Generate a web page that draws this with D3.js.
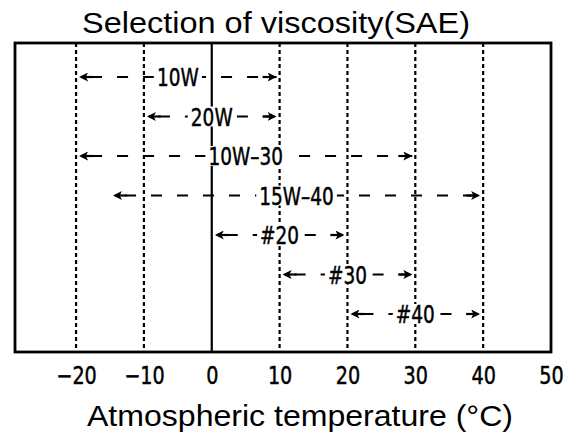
<!DOCTYPE html>
<html>
<head>
<meta charset="utf-8">
<script src="https://cdn.jsdelivr.net/npm/d3@7"></script>
<style>
  body { margin: 0; background: #fff; }
  svg { display: block; }
</style>
</head>
<body>
<div id="chart"></div>
<script>
// viscosity grades and their usable temperature range (°C)
const grades = ["10W", "20W", "10W\u201330", "15W\u201340", "#20", "#30", "#40"];
const lowTemp = [-20, -10, -20, -15, 0, 10, 20];
const highTemp = [10, 10, 30, 40, 20, 30, 40];
const gridTemps = [-20, -10, 10, 20, 30, 40];
const tickTemps = [-20, -10, 0, 10, 20, 30, 40, 50];

const width = 583, height = 442;
const frame = { left: 15, right: 551, top: 43, bottom: 352 };

const svg = d3.select("#chart").append("svg")
    .attr("width", width)
    .attr("height", height);

const x = d3.scaleLinear()
    .domain([-29, 50])
    .range([frame.left, frame.right]);

const y = d3.scalePoint()
    .domain(grades)
    .range([77, 314]);

const sans = "'Liberation Sans', Arial, sans-serif";
const narrow = "'DejaVu Sans', sans-serif";

// title
svg.append("text")
    .attr("x", 276)
    .attr("y", 33)
    .attr("text-anchor", "middle")
    .attr("font-family", sans)
    .attr("font-size", 30)
    .attr("textLength", 388)
    .attr("lengthAdjust", "spacingAndGlyphs")
    .text("Selection of viscosity(SAE)");

// dashed verticals
svg.selectAll(".grid")
    .data(gridTemps)
    .enter().append("line")
    .attr("class", "grid")
    .attr("x1", d => x(d)).attr("x2", d => x(d))
    .attr("y1", frame.top).attr("y2", frame.bottom)
    .attr("stroke", "#000")
    .attr("stroke-width", 2.2)
    .attr("stroke-dasharray", "4,3");

// solid zero line
svg.append("line")
    .attr("x1", x(0)).attr("x2", x(0))
    .attr("y1", frame.top).attr("y2", frame.bottom)
    .attr("stroke", "#000")
    .attr("stroke-width", 2.2);

// arrow head marker
svg.append("defs").append("marker")
    .attr("id", "head")
    .attr("viewBox", "0 0 10 10")
    .attr("refX", 10).attr("refY", 5)
    .attr("markerWidth", 9).attr("markerHeight", 9)
    .attr("markerUnits", "userSpaceOnUse")
    .attr("orient", "auto-start-reverse")
    .append("path")
    .attr("d", "M0,0 L10,5 L0,10 L2.5,5 Z")
    .attr("fill", "#000");

const rows = svg.selectAll(".row")
    .data(grades)
    .enter().append("g")
    .attr("class", "row");

rows.append("line")
    .attr("x1", (d, i) => x(lowTemp[i]) + 3)
    .attr("x2", (d, i) => x(highTemp[i]) - 3)
    .attr("y1", d => y(d)).attr("y2", d => y(d))
    .attr("stroke", "#000")
    .attr("stroke-width", 2.2)
    .attr("stroke-dasharray", "0,12,11,3")
    .attr("marker-start", "url(#head)")
    .attr("marker-end", "url(#head)");

// short solid stems next to each arrow head
rows.append("line")
    .attr("x1", (d, i) => x(lowTemp[i]) + 5)
    .attr("x2", (d, i) => x(lowTemp[i]) + 17)
    .attr("y1", d => y(d)).attr("y2", d => y(d))
    .attr("stroke", "#000").attr("stroke-width", 2.2);
rows.append("line")
    .attr("x1", (d, i) => x(highTemp[i]) - 17)
    .attr("x2", (d, i) => x(highTemp[i]) - 5)
    .attr("y1", d => y(d)).attr("y2", d => y(d))
    .attr("stroke", "#000").attr("stroke-width", 2.2);

const labels = rows.append("text")
    .attr("transform", (d, i) =>
        `translate(${x((lowTemp[i] + highTemp[i]) / 2)},${y(d) + 9}) scale(0.74,1)`)
    .attr("text-anchor", "middle")
    .attr("font-family", narrow)
    .attr("font-size", 25)
    .attr("stroke", "#000")
    .attr("stroke-width", 0.5)
    .text(d => d);

// white box behind each label
labels.each(function(d, i) {
    const b = this.getBBox();
    const w = b.width * 0.74;
    const cx = x((lowTemp[i] + highTemp[i]) / 2);
    d3.select(this.parentNode).insert("rect", "text")
        .attr("x", cx - w / 2 - 3).attr("y", y(d) - 10)
        .attr("width", w + 6).attr("height", 20)
        .attr("fill", "#fff");
});

// frame
svg.append("rect")
    .attr("x", frame.left).attr("y", frame.top)
    .attr("width", frame.right - frame.left)
    .attr("height", frame.bottom - frame.top)
    .attr("fill", "none")
    .attr("stroke", "#000")
    .attr("stroke-width", 2.8);

// tick labels
const axis = d3.axisBottom(x)
    .tickValues(tickTemps)
    .tickSize(0)
    .tickPadding(0)
    .tickFormat(d => d < 0 ? "\u2212" + Math.abs(d) : d);

const ax = svg.append("g")
    .attr("transform", `translate(0,${frame.bottom})`)
    .call(axis);
ax.select(".domain").remove();
ax.selectAll("text")
    .attr("y", 32)
    .attr("dy", null)
    .attr("transform", "scale(0.8,1)")
    .attr("font-family", narrow)
    .attr("font-size", 24)
    .attr("stroke", "#000")
    .attr("stroke-width", 0.5)
    .attr("fill", "#000");

// axis title
svg.append("text")
    .attr("x", 300)
    .attr("y", 426)
    .attr("text-anchor", "middle")
    .attr("font-family", sans)
    .attr("font-size", 29)
    .attr("textLength", 426)
    .attr("lengthAdjust", "spacingAndGlyphs")
    .text("Atmospheric temperature (\u00b0C)");
</script>
</body>
</html>
